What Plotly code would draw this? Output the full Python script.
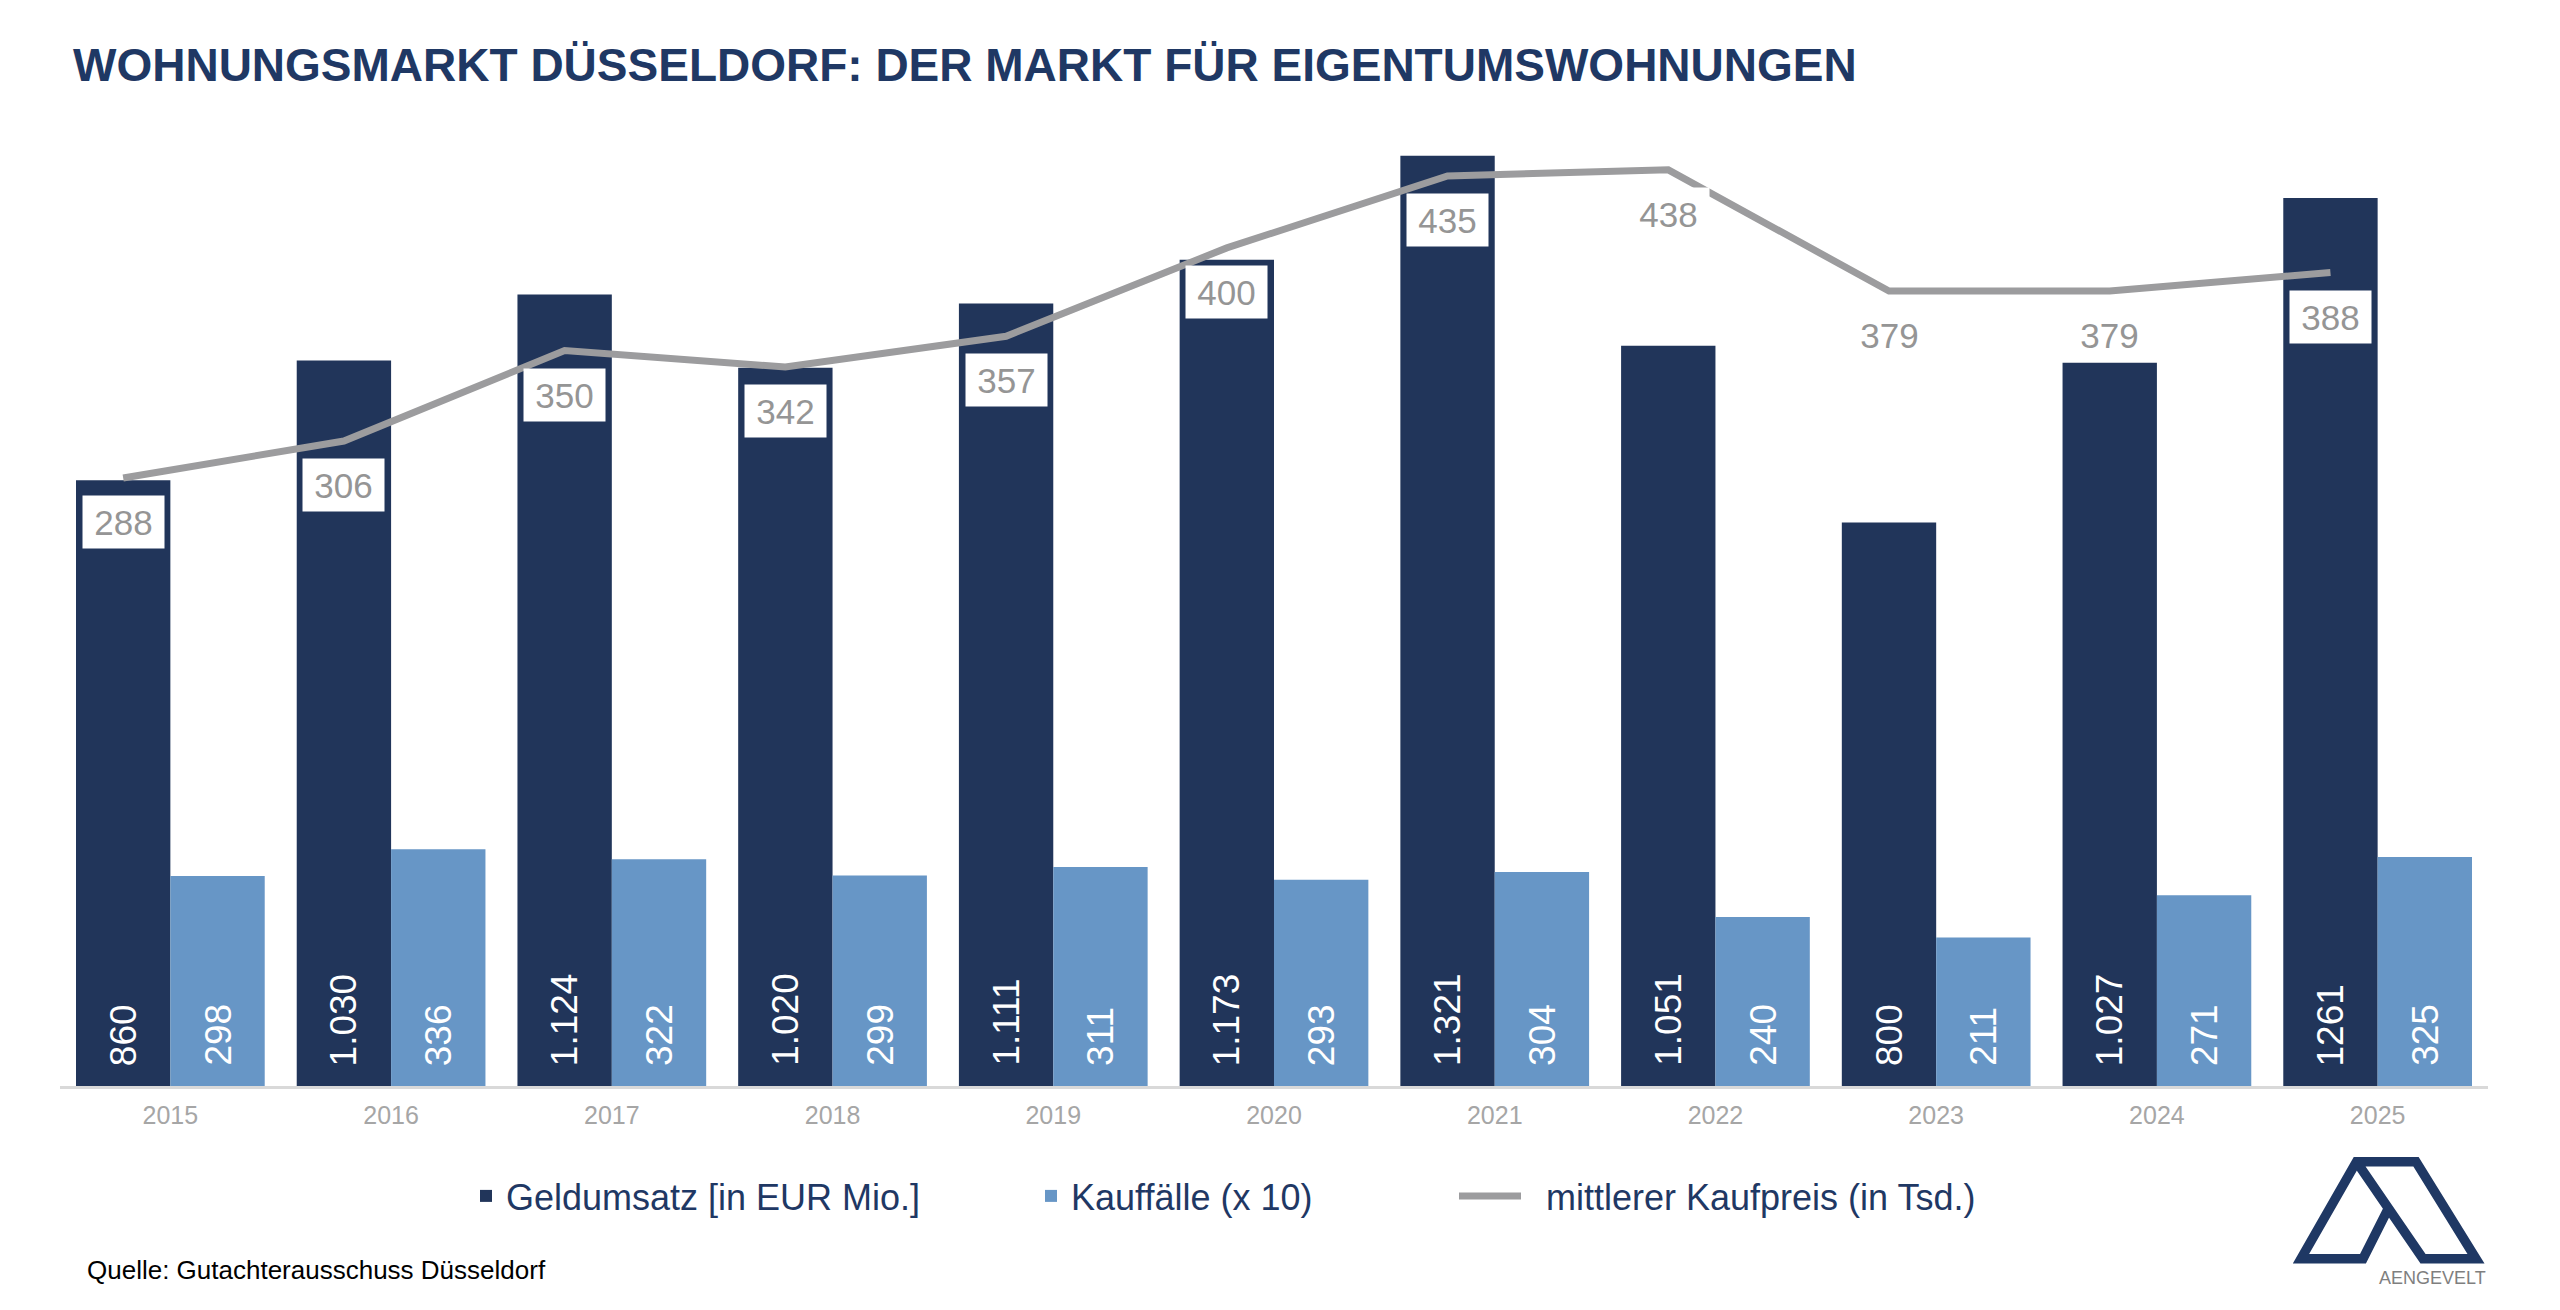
import plotly.graph_objects as go

# ---------------- data ----------------
years = ["2015", "2016", "2017", "2018", "2019", "2020", "2021", "2022", "2023", "2024", "2025"]
geldumsatz = [860, 1030, 1124, 1020, 1111, 1173, 1321, 1051, 800, 1027, 1261]
geldumsatz_labels = ["860", "1.030", "1.124", "1.020", "1.111", "1.173", "1.321", "1.051", "800", "1.027", "1261"]
kauffaelle = [298, 336, 322, 299, 311, 293, 304, 240, 211, 271, 325]
kaufpreis = [288, 306, 350, 342, 357, 400, 435, 438, 379, 379, 388]

# ---------------- style ----------------
W, H = 2560, 1310
L, R, T, B = 60, 72, 100, 224
PW, PH = W - L - R, H - T - B
NAVY = "#21355A"
LIGHT = "#6796C6"
GRAY_LINE = "#9C9C9E"
GRAY_TXT = "#959595"
TITLE_C = "#1F3864"
FONT = "Liberation Sans, Arial, sans-serif"
BARGAP = 0.145
n = len(years)
shift_cat = (1 - BARGAP) / 4          # centre of first bar in a group, in category units
bar_px = PW / n * (1 - BARGAP) / 2


def px2paper(px, py):
    return (px - L) / PW, (T + PH - py) / PH


fig = go.Figure()
fig.add_bar(x=years, y=geldumsatz, name="Geldumsatz [in EUR Mio.]", showlegend=True,
            marker=dict(color=NAVY, line=dict(width=0)), legend="legend")
fig.add_bar(x=years, y=kauffaelle, name="Kauffälle (x 10)", showlegend=True,
            marker=dict(color=LIGHT, line=dict(width=0)), legend="legend2")
fig.add_scatter(x=years, y=kaufpreis, xaxis="x2", yaxis="y2", mode="lines", showlegend=True,
                name="\u00a0\u00a0mittlerer Kaufpreis (in Tsd.)",
                line=dict(color=GRAY_LINE, width=7), legend="legend3")

annotations = []
# value labels inside bars (rotated); x given as category index
for i, lab in enumerate(geldumsatz_labels):
    annotations.append(dict(x=i, y=0, xref="x", yref="y", text=lab, showarrow=False,
                            textangle=-90, xshift=-bar_px / 2, yshift=18, yanchor="bottom",
                            font=dict(family=FONT, size=37, color="white")))
for i, v in enumerate(kauffaelle):
    annotations.append(dict(x=i, y=0, xref="x", yref="y", text=str(v), showarrow=False,
                            textangle=-90, xshift=bar_px / 2, yshift=18, yanchor="bottom",
                            font=dict(family=FONT, size=37, color="white")))
# price labels
for i, v in enumerate(kaufpreis):
    annotations.append(dict(x=i, y=v, xref="x2", yref="y2", text=str(v), showarrow=False,
                            yshift=-44, width=81, height=52, bgcolor="white", borderpad=0,
                            font=dict(family=FONT, size=35, color=GRAY_TXT)))

# source
sx, sy = px2paper(85, 1270)
annotations.append(dict(x=sx, y=sy, xref="paper", yref="paper", xanchor="left", yanchor="middle",
                        text="Quelle: Gutachterausschuss Düsseldorf", showarrow=False,
                        font=dict(family=FONT, size=26, color="black")))
# logo text
lx, ly = px2paper(2432, 1278)
annotations.append(dict(x=lx, y=ly, xref="paper", yref="paper", xanchor="center", yanchor="middle",
                        text="AENGEVELT", showarrow=False,
                        font=dict(family=FONT, size=18, color="#7F7F7F")))

# logo shape
pts = [(2388.5, 1208.2), (2363, 1258.7), (2301, 1258.7), (2356.5, 1161.7), (2416, 1161.7),
       (2476, 1258.7), (2423, 1258.7), (2356.5, 1161.7)]
path = ""
for i, (px, py) in enumerate(pts):
    a, b = px2paper(px, py)
    path += ("M" if i == 0 else "L") + f"{a:.5f},{b:.5f} "
shapes = [dict(type="path", xref="paper", yref="paper", path=path,
               line=dict(color=TITLE_C, width=9.5))]

leg_y = 1 - 1196 / H
common_leg = dict(xref="container", yref="container", y=leg_y, xanchor="left", yanchor="middle",
                  orientation="h", bgcolor="rgba(0,0,0,0)", borderwidth=0,
                  font=dict(family=FONT, size=36, color=TITLE_C))

fig.update_layout(
    width=W, height=H,
    margin=dict(l=L, r=R, t=T, b=B, pad=0),
    paper_bgcolor="white", plot_bgcolor="white",
    showlegend=True,
    barmode="group", bargap=BARGAP, bargroupgap=0,
    font=dict(family=FONT),
    title=dict(text="WOHNUNGSMARKT DÜSSELDORF: DER MARKT FÜR EIGENTUMSWOHNUNGEN",
               x=73 / W, xanchor="left", xref="container", y=1 - 65 / H, yanchor="middle",
               yref="container",
               font=dict(family=FONT, size=46, color=TITLE_C, weight="bold")),
    xaxis=dict(type="category", categoryorder="array", categoryarray=years,
               range=[-0.5, n - 0.5], showgrid=False, zeroline=False,
               showline=True, linecolor="#D9D9D9", linewidth=3,
               ticks="outside", ticklen=5, tickcolor="rgba(0,0,0,0)",
               tickfont=dict(family=FONT, size=25, color="#A6A6A6")),
    xaxis2=dict(type="category", categoryorder="array", categoryarray=years, overlaying="x",
                visible=False, range=[-0.5 + shift_cat, n - 0.5 + shift_cat], anchor="y2"),
    yaxis=dict(range=[0, 1400], visible=False, showgrid=False, zeroline=False),
    yaxis2=dict(range=[-8.0, 472.0], overlaying="y", visible=False, showgrid=False,
                zeroline=False, anchor="x2"),
    legend=dict(x=466 / W, itemwidth=30, **common_leg),
    legend2=dict(x=1031 / W, itemwidth=30, **common_leg),
    legend3=dict(x=1454 / W, itemwidth=62, **common_leg),
    annotations=annotations,
    shapes=shapes,
)

fig.write_html("out.html")
